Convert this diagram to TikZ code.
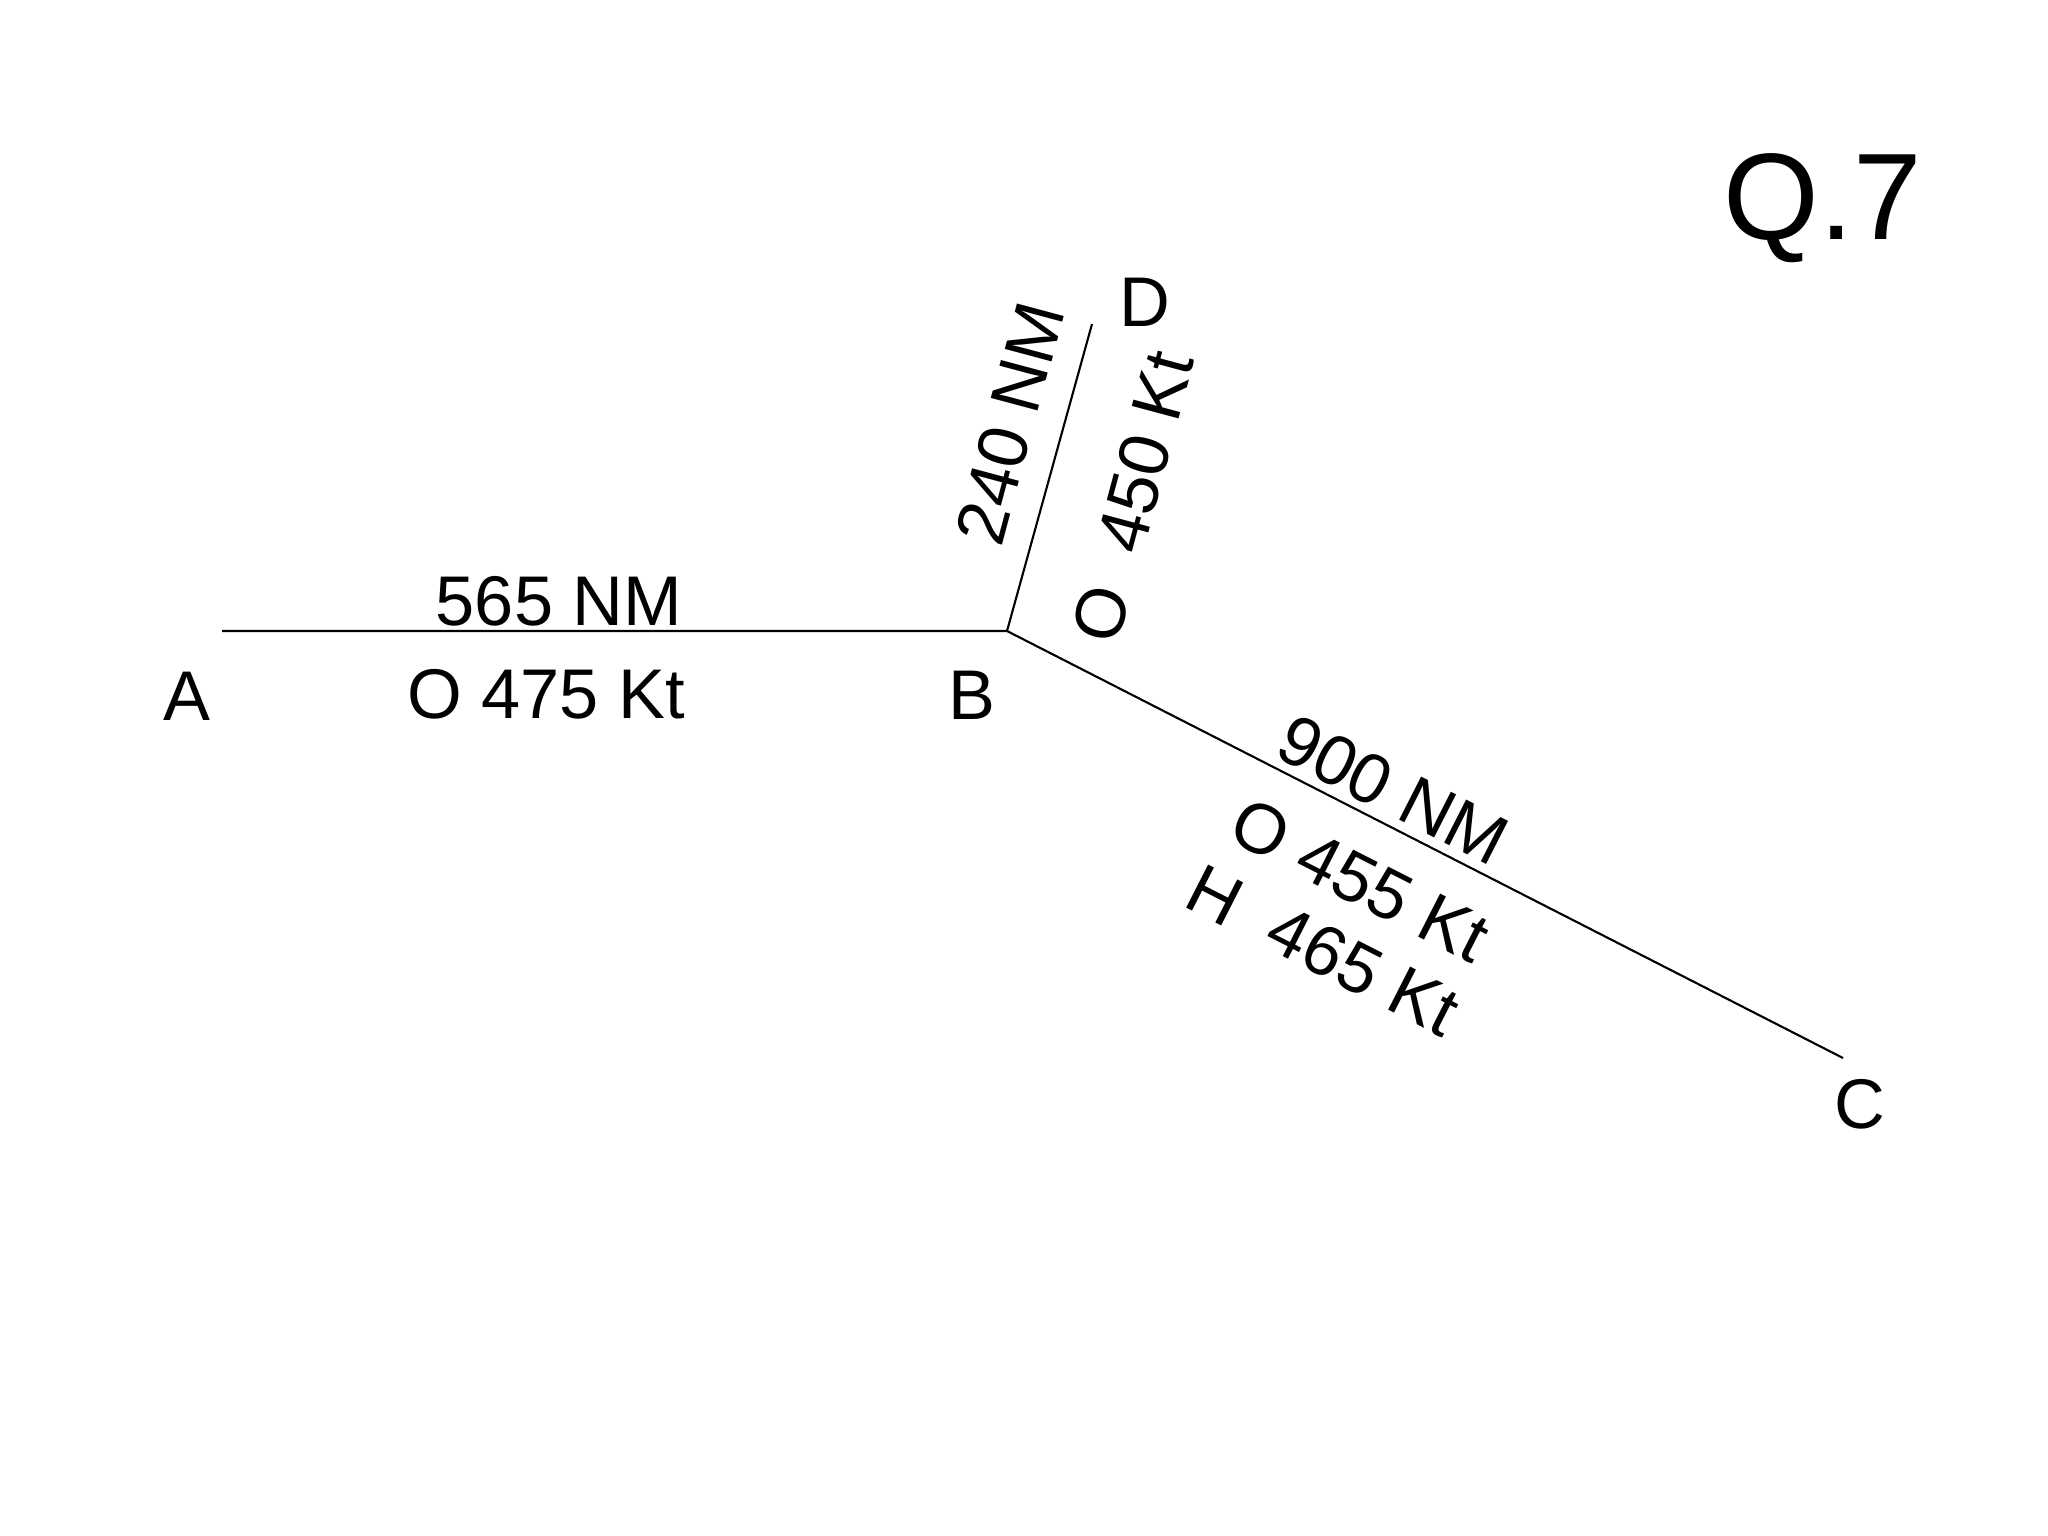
\documentclass[tikz,border=0pt]{standalone}
\usepackage{fontspec}
\setmainfont{Liberation Sans}
\begin{document}
\begin{tikzpicture}[x=0.01cm,y={(0cm,-0.01cm)},
  lbl/.style={inner sep=0pt,font=\fontsize{20}{24}\selectfont},
  big/.style={inner sep=0pt,font=\fontsize{35}{42}\selectfont},
  leg/.style={line width=0.6pt,black}]
\useasboundingbox[fill=white] (0,0) rectangle (2048,1536);
% end points of the legs
\coordinate (pA) at (222,631);
\coordinate (pB) at (1007,631);
\coordinate (pC) at (1843,1058);
\coordinate (pD) at (1092,324);
\draw[leg] (pA) -- (pB) -- (pC);
\draw[leg] (pB) -- (pD);
% point names
\node[lbl,anchor=base] (A) at (187,720) {A};
\node[lbl,anchor=base] (B) at (972,719) {B};
\node[lbl,anchor=base] (C) at (1860,1128) {C};
\node[lbl,anchor=base] (D) at (1145,326) {D};
\node[big,anchor=base] (Q) at (1823,239) {Q.7};
% leg A-B
\node[lbl,anchor=base] (ab1) at (559,625) {565 NM};
\node[lbl,anchor=base] (ab2) at (546,718) {O 475 Kt};
% leg B-D
\node[lbl,rotate=75] (bd1) at (1010,423) {240 NM};
\node[lbl,rotate=75] (bd2) at (1133,497) {O\ \ 450 Kt};
% leg B-C
\node[lbl,rotate=-27] (bc1) at (1393,790) {900 NM};
\node[lbl,rotate=-27] (bc2) at (1360,880) {O 455 Kt};
\node[lbl,rotate=-27] (bc3) at (1323,950) {H\ \ 465 Kt};
\end{tikzpicture}
\end{document}
